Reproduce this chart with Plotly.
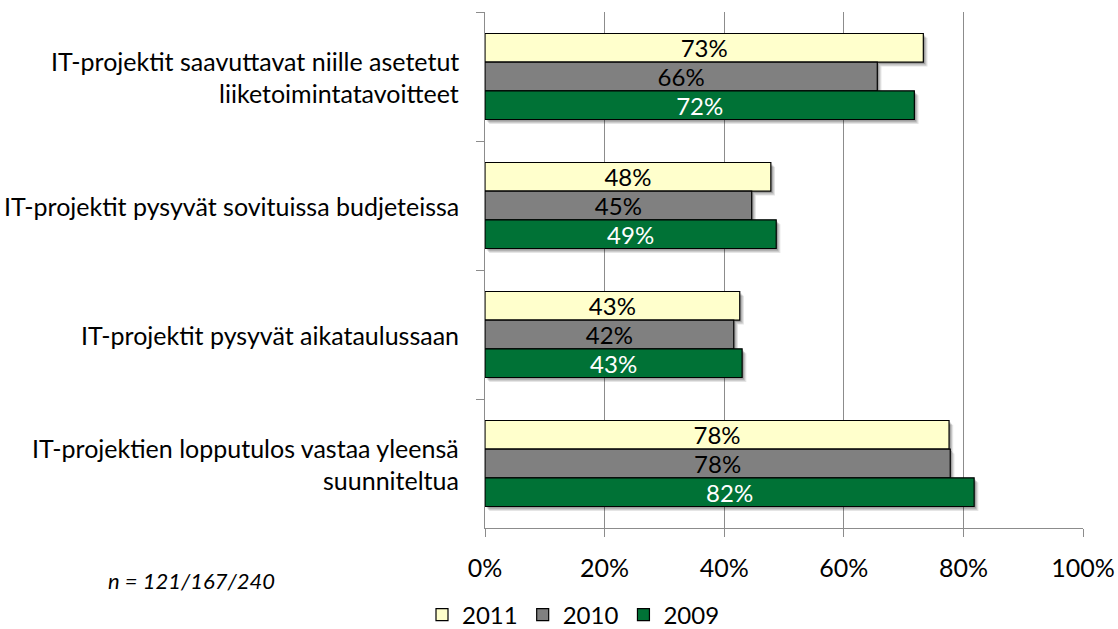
import plotly.graph_objects as go

categories = [
    "IT-projektit saavuttavat niille asetetut\nliiketoimintatavoitteet",
    "IT-projektit pysyvät sovituissa budjeteissa",
    "IT-projektit pysyvät aikataulussaan",
    "IT-projektien lopputulos vastaa yleensä\nsuunniteltua",
]
series_names = ["2011", "2010", "2009"]
values_2011 = [73.3, 47.8, 42.6, 77.6]
values_2010 = [65.6, 44.6, 41.6, 77.8]
values_2009 = [71.8, 48.7, 43.0, 81.8]
x_ticks = [0, 20, 40, 60, 80, 100]
note_text = "n = 121/167/240"

series_values = [values_2011, values_2010, values_2009]
fill_colors = ["#FFFFCC", "#808080", "#007236"]
text_colors = ["#000000", "#000000", "#FFFFFF"]

FONT = "Lato"
FS = 24
BARGAP = 0.333

cat_keys = [c.replace("\n", " ") for c in categories]

fig = go.Figure()
for name, vals, fc, tc in zip(series_names, series_values, fill_colors, text_colors):
    fig.add_trace(go.Bar(
        y=cat_keys, x=vals, name=name, orientation="h",
        marker=dict(color=fc, line=dict(color="#000000", width=1.2)),
        text=[f"{round(v):d}%" for v in vals],
        textposition="inside", insidetextanchor="middle",
        constraintext="none",
        textfont=dict(family=FONT, size=FS, color=tc),
        textangle=0,
        cliponaxis=False,
    ))

# soft drop shadows behind bars (derived from the data)
n = len(series_names)
w = (1 - BARGAP) / n
shapes = []
for k, vals in enumerate(series_values):
    for i, v in enumerate(vals):
        c = i + (k - (n - 1) / 2) * w
        for dx, dy, op in [(0.7, 0.034, 0.10), (0.5, 0.025, 0.14), (0.3, 0.015, 0.18)]:
            shapes.append(dict(
                type="rect", xref="x", yref="y", layer="between",
                x0=dx, x1=v + dx, y0=c - w / 2 + dy, y1=c + w / 2 + dy,
                fillcolor=f"rgba(0,0,0,{op})", line=dict(width=0),
            ))

annotations = []
for i, cat in enumerate(categories):
    lines = cat.split("\n")
    m = len(lines)
    for j, line in enumerate(lines):
        annotations.append(dict(
            x=0, xref="paper", xanchor="right", xshift=-24,
            y=cat_keys[i], yref="y", yanchor="middle",
            yshift=-(j - (m - 1) / 2) * 32,
            text=line, showarrow=False, align="center",
            font=dict(family=FONT, size=25, color="#000000"),
        ))
annotations.append(dict(
    x=(106 - 485) / 598, xref="paper", xanchor="left",
    y=(528 - 580) / 516, yref="paper", yanchor="middle",
    text=f"<i>{note_text}</i>", showarrow=False,
    font=dict(family=FONT, size=22, color="#000000"),
))

fig.update_layout(
    width=1118, height=629,
    margin=dict(l=485, r=35, t=12, b=101, autoexpand=False),
    paper_bgcolor="white", plot_bgcolor="white",
    barmode="group", bargap=BARGAP, bargroupgap=0,
    font=dict(family=FONT, size=FS, color="#000000"),
    shapes=shapes, annotations=annotations,
    showlegend=True,
    legend=dict(
        orientation="h", x=(422 - 485) / 598, xanchor="left",
        y=(528 - 615) / 516, yanchor="middle",
        font=dict(family=FONT, size=FS, color="#000000"),
        traceorder="normal", itemwidth=30,
    ),
)
fig.update_xaxes(
    range=[0, 100], tickvals=x_ticks, ticktext=[f"{t}%" for t in x_ticks],
    showgrid=True, gridcolor="#8C8C8C", gridwidth=1.3,
    showline=True, linecolor="#8C8C8C", linewidth=1.3,
    ticks="outside", ticklen=8, tickcolor="#8C8C8C", tickwidth=1.3,
    ticklabelstandoff=10, zeroline=False,
    tickfont=dict(family=FONT, size=25, color="#000000"),
    fixedrange=True,
)
fig.update_yaxes(
    type="category", categoryorder="array", categoryarray=cat_keys,
    autorange="reversed", showticklabels=False,
    showline=True, linecolor="#8C8C8C", linewidth=1.3,
    ticks="outside", tickson="boundaries", ticklen=8,
    tickcolor="#8C8C8C", tickwidth=1.3, showgrid=False,
    fixedrange=True,
)
fig.write_html(
    "out.html",
    config={"displayModeBar": False},
    post_script="document.body.style.margin='0';document.body.style.padding='0';document.body.style.overflow='hidden';",
)
